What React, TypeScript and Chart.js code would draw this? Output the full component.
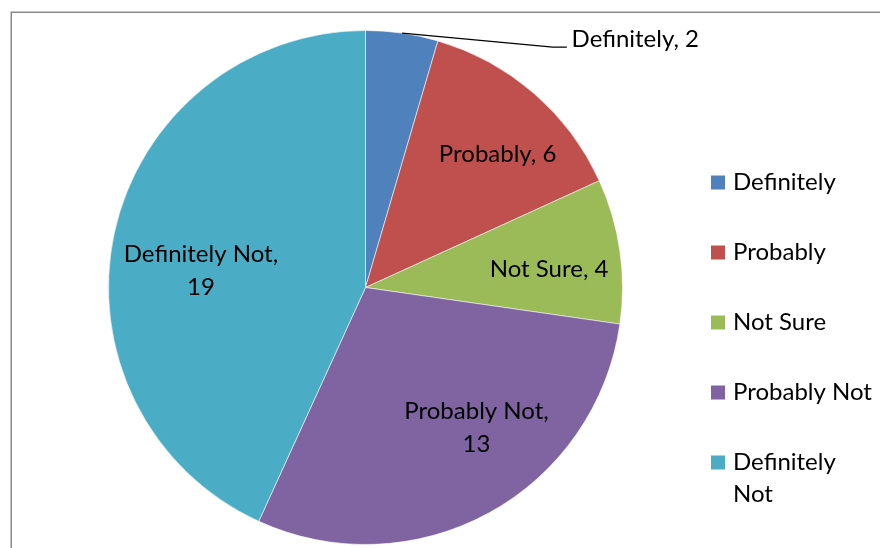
import React, { useEffect, useRef } from "react";
import { Chart, registerables } from "chart.js";

Chart.register(...registerables);

// ---- data ----
const categories = ["Definitely", "Probably", "Not Sure", "Probably Not", "Definitely Not"];
const responses = [2, 6, 4, 13, 19];
const sliceColors = ["#4F81BD", "#C0504D", "#9BBB59", "#8064A2", "#4BACC6"];

// ---- label layout (polar: degrees clockwise from 12 o'clock, fraction of radius) ----
const labelAngles = [40.6, 44.6, 84.2, 141.5, 276.1];
const labelRadii = [1.232, 0.732, 0.718, 0.694, 0.644];
const labelOutside = [true, false, false, false, false];
const leaderAngle = 8.2;

const FONT_FAMILY = "Lato";
const FONT_SIZE = 24;
const LINE_H = 32.5;
const LABEL_WRAP = 170;
const LEGEND_WRAP = 144;

function wrap(ctx: CanvasRenderingContext2D, text: string, maxW: number): string[] {
  const words = text.split(" ");
  const lines: string[] = [];
  let cur = "";
  for (const w of words) {
    const test = cur ? cur + " " + w : w;
    if (cur && ctx.measureText(test).width > maxW) {
      lines.push(cur);
      cur = w;
    } else {
      cur = test;
    }
  }
  if (cur) lines.push(cur);
  return lines;
}

const overlayPlugin = {
  id: "overlay",
  afterDraw(chart: any) {
    const ctx: CanvasRenderingContext2D = chart.ctx;
    const meta = chart.getDatasetMeta(0);
    const first = meta.data[0];
    const { x: cx, y: cy, outerRadius: r } = first.getProps(["x", "y", "outerRadius"], true);
    const polar = (deg: number, d: number) => {
      const a = (deg * Math.PI) / 180;
      return { x: cx + d * Math.sin(a), y: cy - d * Math.cos(a) };
    };

    ctx.save();
    // chart frame
    ctx.strokeStyle = "#8a8a8a";
    ctx.lineWidth = 1.5;
    ctx.strokeRect(11.25, 12.25, 1000, 1000);

    ctx.font = `${FONT_SIZE}px "${FONT_FAMILY}"`;
    ctx.fillStyle = "#000";
    const cap = ctx.measureText("H").actualBoundingBoxAscent;

    // data labels
    const data = chart.data.datasets[0].data as number[];
    const labels = chart.data.labels as string[];
    data.forEach((v, i) => {
      const text = `${labels[i]}, ${v}`;
      const p = polar(labelAngles[i], labelRadii[i] * r);
      if (labelOutside[i]) {
        ctx.textAlign = "left";
        ctx.textBaseline = "alphabetic";
        ctx.fillText(text, p.x, p.y);
        const s = polar(leaderAngle, r);
        ctx.beginPath();
        ctx.strokeStyle = "#000";
        ctx.lineWidth = 1.2;
        ctx.moveTo(s.x, s.y);
        ctx.lineTo(p.x - 18.7, p.y);
        ctx.lineTo(p.x - 4.7, p.y);
        ctx.stroke();
      } else {
        const lines = wrap(ctx, text, LABEL_WRAP);
        ctx.textAlign = "center";
        ctx.textBaseline = "alphabetic";
        lines.forEach((ln, k) => {
          const by = p.y + (k - (lines.length - 1) / 2) * LINE_H + cap / 2;
          ctx.fillText(ln, p.x, by);
        });
      }
    });

    // legend
    const colors = chart.data.datasets[0].backgroundColor as string[];
    const boxX = 711;
    const textX = 733;
    const firstBase = 189.5;
    const rowStep = 70;
    ctx.textAlign = "left";
    labels.forEach((lab, i) => {
      const base = firstBase + i * rowStep;
      ctx.fillStyle = colors[i];
      ctx.fillRect(boxX, base - 14, 14, 14);
      ctx.fillStyle = "#000";
      const lines = wrap(ctx, lab, LEGEND_WRAP);
      lines.forEach((ln, k) => ctx.fillText(ln, textX, base + k * 32.7));
    });
    ctx.restore();
  },
};

export default function App() {
  const ref = useRef<HTMLCanvasElement | null>(null);
  useEffect(() => {
    if (!ref.current) return;
    const chart = new Chart(ref.current, {
      type: "pie",
      data: {
        labels: categories,
        datasets: [
          {
            data: responses,
            backgroundColor: sliceColors,
            borderColor: "rgba(255,255,255,0.55)",
            borderWidth: 1,
          },
        ],
      },
      options: {
        animation: false,
        responsive: false,
        events: [],
        layout: { padding: { left: 108, top: 30, right: 257, bottom: 3 } },
        plugins: { legend: { display: false }, tooltip: { enabled: false } },
      },
      plugins: [overlayPlugin],
    });
    return () => chart.destroy();
  }, []);
  return (
    <div style={{ position: "fixed", left: 0, top: 0, width: 880, height: 548, background: "#fff" }}>
      <canvas ref={ref} width={880} height={548} style={{ display: "block" }} />
    </div>
  );
}
